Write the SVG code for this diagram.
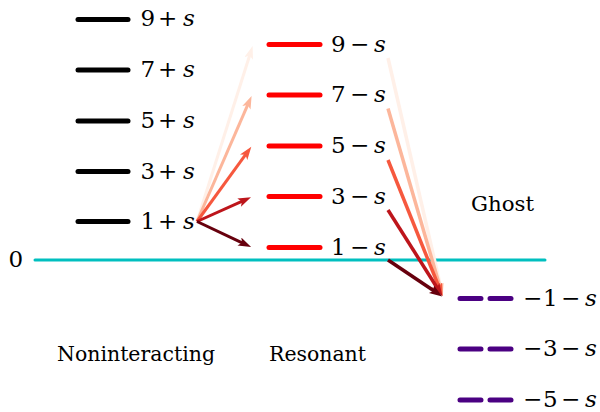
<svg xmlns="http://www.w3.org/2000/svg" width="600" height="412" viewBox="0 0 600 412">
<style>
text{font-family:'DejaVu Serif',serif;fill:#000}
.t{font-size:23px}
.w{font-size:21px}
.it{font-style:italic}
.nl{stroke:#000;stroke-width:5;stroke-linecap:round}
.rl{stroke:#ff0000;stroke-width:5;stroke-linecap:round}
.gl{stroke:#4b0082;stroke-width:5;stroke-linecap:round;stroke-dasharray:21 9}
.zero{stroke:#00bfbf;stroke-width:3;stroke-linecap:round}
.a{fill:none;stroke-width:3}
.b{fill:none;stroke-width:3.5}
</style>
<defs>
<marker id="m1" markerUnits="userSpaceOnUse" markerWidth="14" markerHeight="10" refX="6" refY="4.5" orient="auto"><path d="M0,0 L13,4.5 L0,9 L3,4.5 z" fill="#67000d"/></marker>
<marker id="m3" markerUnits="userSpaceOnUse" markerWidth="14" markerHeight="10" refX="6" refY="4.5" orient="auto"><path d="M0,0 L13,4.5 L0,9 L3,4.5 z" fill="#bd151b"/></marker>
<marker id="m5" markerUnits="userSpaceOnUse" markerWidth="14" markerHeight="10" refX="6" refY="4.5" orient="auto"><path d="M0,0 L13,4.5 L0,9 L3,4.5 z" fill="#f6583e"/></marker>
<marker id="m7" markerUnits="userSpaceOnUse" markerWidth="14" markerHeight="10" refX="6" refY="4.5" orient="auto"><path d="M0,0 L13,4.5 L0,9 L3,4.5 z" fill="#fcb69b"/></marker>
<marker id="m9" markerUnits="userSpaceOnUse" markerWidth="14" markerHeight="10" refX="6" refY="4.5" orient="auto"><path d="M0,0 L13,4.5 L0,9 L3,4.5 z" fill="#fff0e8"/></marker>
</defs>

<g id="zero-line">
<line class="zero" x1="35" y1="260" x2="545" y2="260"/>
<text class="t" x="8.5" y="267">0</text>
</g>

<g id="noninteracting">
<g id="n9"><line class="nl" x1="78" y1="19.5" x2="128" y2="19.5"/><text class="t" y="26"><tspan x="140.5">9</tspan><tspan x="158">+</tspan><tspan x="183" class="it">s</tspan></text></g>
<g id="n7"><line class="nl" x1="78" y1="70" x2="128" y2="70"/><text class="t" y="77"><tspan x="140.5">7</tspan><tspan x="158">+</tspan><tspan x="183" class="it">s</tspan></text></g>
<g id="n5"><line class="nl" x1="78" y1="121" x2="128" y2="121"/><text class="t" y="128"><tspan x="140.5">5</tspan><tspan x="158">+</tspan><tspan x="183" class="it">s</tspan></text></g>
<g id="n3"><line class="nl" x1="78" y1="171.5" x2="128" y2="171.5"/><text class="t" y="178.5"><tspan x="140.5">3</tspan><tspan x="158">+</tspan><tspan x="183" class="it">s</tspan></text></g>
<g id="n1"><line class="nl" x1="78" y1="221.5" x2="128" y2="221.5"/><text class="t" y="229"><tspan x="140.5">1</tspan><tspan x="158">+</tspan><tspan x="183" class="it">s</tspan></text></g>
<text class="w" x="57" y="361" textLength="158" lengthAdjust="spacingAndGlyphs">Noninteracting</text>
</g>

<g id="resonant">
<g id="r9"><line class="rl" x1="269" y1="44.5" x2="320" y2="44.5"/><text class="t" y="51.5"><tspan x="331">9</tspan><tspan x="350">−</tspan><tspan x="374" class="it">s</tspan></text></g>
<g id="r7"><line class="rl" x1="269" y1="95" x2="320" y2="95"/><text class="t" y="102"><tspan x="331">7</tspan><tspan x="350">−</tspan><tspan x="374" class="it">s</tspan></text></g>
<g id="r5"><line class="rl" x1="269" y1="146" x2="320" y2="146"/><text class="t" y="153"><tspan x="331">5</tspan><tspan x="350">−</tspan><tspan x="374" class="it">s</tspan></text></g>
<g id="r3"><line class="rl" x1="269" y1="196.5" x2="320" y2="196.5"/><text class="t" y="203.5"><tspan x="331">3</tspan><tspan x="350">−</tspan><tspan x="374" class="it">s</tspan></text></g>
<g id="r1"><line class="rl" x1="269" y1="247.5" x2="320" y2="247.5"/><text class="t" y="254.5"><tspan x="331">1</tspan><tspan x="350">−</tspan><tspan x="374" class="it">s</tspan></text></g>
<text class="w" x="269" y="361" textLength="97" lengthAdjust="spacingAndGlyphs">Resonant</text>
</g>

<g id="ghost">
<g id="g1"><line class="gl" x1="460" y1="298.5" x2="511" y2="298.5"/><text class="t" y="305.5"><tspan x="523">−</tspan><tspan x="543">1</tspan><tspan x="561">−</tspan><tspan x="585" class="it">s</tspan></text></g>
<g id="g3"><line class="gl" x1="460" y1="349" x2="511" y2="349"/><text class="t" y="356"><tspan x="523">−</tspan><tspan x="543">3</tspan><tspan x="561">−</tspan><tspan x="585" class="it">s</tspan></text></g>
<g id="g5"><line class="gl" x1="460" y1="400" x2="511" y2="400"/><text class="t" y="407"><tspan x="523">−</tspan><tspan x="543">5</tspan><tspan x="561">−</tspan><tspan x="585" class="it">s</tspan></text></g>
<text class="w" x="471" y="210.5" textLength="63" lengthAdjust="spacingAndGlyphs">Ghost</text>
</g>

<g id="connectors">
<line class="a" stroke="#fff0e8" x1="197" y1="221.5" x2="250.5" y2="52.7" marker-end="url(#m9)"/>
<line class="a" stroke="#fcb69b" x1="197" y1="221.5" x2="248.8" y2="102.3" marker-end="url(#m7)"/>
<line class="a" stroke="#f6583e" x1="197" y1="221.5" x2="247.2" y2="152.4" marker-end="url(#m5)"/>
<line class="a" stroke="#bd151b" x1="197" y1="221.5" x2="244.6" y2="200.2" marker-end="url(#m3)"/>
<line class="a" stroke="#67000d" x1="197" y1="221.5" x2="244.8" y2="244.1" marker-end="url(#m1)"/>
<line class="b" stroke="#fff0e8" x1="388" y1="58" x2="441.2" y2="289.2" marker-end="url(#m9)"/>
<line class="b" stroke="#fcb69b" x1="388" y1="108.5" x2="440.7" y2="289.3" marker-end="url(#m7)"/>
<line class="b" stroke="#f6583e" x1="388" y1="160" x2="440.0" y2="289.6" marker-end="url(#m5)"/>
<line class="b" stroke="#bd151b" x1="388" y1="210" x2="438.7" y2="290.2" marker-end="url(#m3)"/>
<line class="b" stroke="#67000d" x1="388" y1="260" x2="436.4" y2="292.5" marker-end="url(#m1)"/>
</g>
</svg>
